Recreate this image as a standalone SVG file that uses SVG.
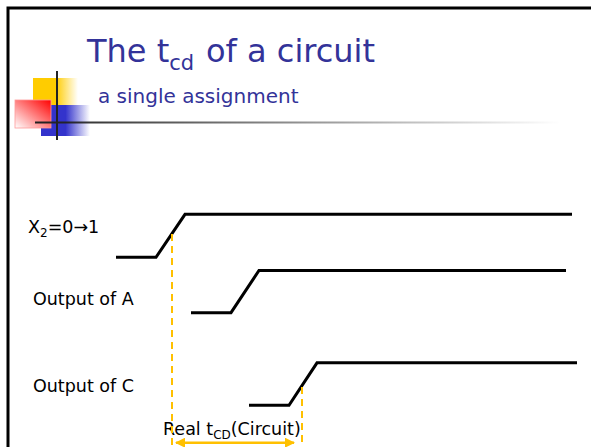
<svg xmlns="http://www.w3.org/2000/svg" width="591" height="447" viewBox="0 0 591 447">
<defs>
<style>
.title{font-family:"DejaVu Sans",Verdana,sans-serif;fill:#333399}
.lbl{font-family:"DejaVu Sans",Verdana,sans-serif;fill:#000;font-size:17.5px}
.wave{fill:none;stroke:#000;stroke-width:3;stroke-linejoin:miter}
.guide{stroke:#FFC000;stroke-width:2;stroke-dasharray:7 5;fill:none}
</style>
<linearGradient id="gy" x1="0" y1="0" x2="1" y2="0"><stop offset="0.5" stop-color="#FFCC00"/><stop offset="1" stop-color="#FFCC00" stop-opacity="0"/></linearGradient>
<linearGradient id="gb" x1="0" y1="0" x2="1" y2="0"><stop offset="0.5" stop-color="#3333CC"/><stop offset="1" stop-color="#3333CC" stop-opacity="0"/></linearGradient>
<linearGradient id="gr" x1="1" y1="0" x2="0" y2="1"><stop offset="0" stop-color="#FF0000"/><stop offset="1" stop-color="#FFFFFF"/></linearGradient>
<linearGradient id="gl" x1="0" y1="0" x2="1" y2="0"><stop offset="0" stop-color="#222"/><stop offset="1" stop-color="#222" stop-opacity="0"/></linearGradient>
<marker id="ah" viewBox="0 0 10 10" refX="9" refY="5" markerWidth="4" markerHeight="4" orient="auto-start-reverse"><path d="M0,0 L10,5 L0,10 z" fill="#FFC000"/></marker>
</defs>
<rect x="0" y="0" width="591" height="447" fill="#fff"/>
<path d="M8,447 V8 H591" fill="none" stroke="#000" stroke-width="3"/>
<g id="logo">
<rect x="33" y="78" width="45" height="27" fill="url(#gy)"/>
<rect x="41" y="105" width="49" height="31" fill="url(#gb)"/>
<rect x="15" y="100" width="36" height="28" fill="url(#gr)" stroke="#FF9999" stroke-width="0.8"/>
<line x1="57" y1="71" x2="57" y2="140" stroke="#222" stroke-width="2"/>
<rect x="35" y="121.5" width="525" height="2" fill="url(#gl)"/>
</g>
<g id="title">
<text class="title" x="87" y="62" font-size="32">The t<tspan font-size="21" dy="8">cd</tspan><tspan x="206" dy="-8">of a circuit</tspan></text>
<text class="title" x="98" y="103" font-size="20">a single assignment</text>
</g>
<g id="labels">
<text class="lbl" x="28" y="233">X<tspan font-size="12" dy="4">2</tspan><tspan dy="-4">=0→1</tspan></text>
<text class="lbl" x="33" y="305">Output of A</text>
<text class="lbl" x="33" y="392">Output of C</text>
<text class="lbl" x="163" y="435" font-size="17">Real t<tspan font-size="12" dy="4">CD</tspan><tspan dy="-4">(Circuit)</tspan></text>
</g>
<g id="connectors">
<polyline id="wave-x2" class="wave" points="116,257.3 156,257.3 185,214.3 572,214.3"/>
<polyline id="wave-a" class="wave" points="191,312.7 231,312.7 259,270.5 566,270.5"/>
<polyline id="wave-c" class="wave" points="249,405.3 289,405.3 317,362.8 577,362.8"/>
<line class="guide" x1="172" y1="234" x2="172" y2="447"/>
<line class="guide" x1="302" y1="387" x2="302" y2="447"/>
<line x1="176" y1="442.7" x2="294" y2="442.7" stroke="#FFC000" stroke-width="2.5" marker-start="url(#ah)" marker-end="url(#ah)"/>
</g>
</svg>
